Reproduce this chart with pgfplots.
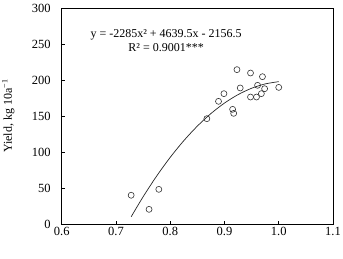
\documentclass[border=0pt]{standalone}
\usepackage{fontspec}
\setmainfont{Liberation Serif}
\usepackage{pgfplots}
\pgfplotsset{compat=1.18}
\begin{document}
\begin{tikzpicture}
\begin{axis}[
  scale only axis,
  width=271.3pt, height=215.7pt,
  xmin=0.6, xmax=1.1, ymin=0, ymax=300,
  xtick={0.6,0.7,0.8,0.9,1.0,1.1},
  xticklabels={0.6,0.7,0.8,0.9,1.0,1.1},
  ytick={0,50,100,150,200,250,300},
  xtick pos=bottom, ytick pos=left,
  tick align=inside,
  major tick length=3pt,
  tick style={black, line width=0.5pt},
  axis line style={black, line width=0.6pt},
  /pgf/number format/assume math mode=true,
  tick label style={font=\fontsize{12.5}{14}\selectfont},
  yticklabel style={xshift=-7.5pt},
  ylabel={Yield, kg 10a\textsuperscript{−1}},
  ylabel style={font=\fontsize{12}{14}\selectfont, at={(axis description cs:-0.197,0.5)}, anchor=center},
  clip=false,
]
\addplot[only marks, mark=o, mark size=3pt, mark options={line width=0.6pt, draw=black!80}] coordinates {
(0.728,40.0) (0.761,20.4) (0.779,48.2) (0.8675,146.5) (0.889,170.6)
(0.899,181.3) (0.915,159.5) (0.917,153.9) (0.923,214.7) (0.929,189.2)
(0.948,210.0) (0.948,176.6) (0.959,176.6) (0.961,192.9) (0.968,181.3)
(0.970,204.9) (0.974,188.2) (1.000,190.0)
};
\addplot[smooth, line width=0.7pt, black!85] coordinates {
(0.728,10.04) (0.75,37.81) (0.775,66.68) (0.80,92.70) (0.825,115.86)
(0.85,136.16) (0.875,153.61) (0.90,168.20) (0.925,179.93) (0.95,188.81)
(0.975,194.83) (1.0,198.0)
};
\node[font=\fontsize{12}{14}\selectfont, inner sep=0pt] at (axis cs:0.7924,263.5) {y = -2285x² + 4639.5x - 2156.5};
\node[font=\fontsize{12}{14}\selectfont, inner sep=0pt] at (axis cs:0.7924,245.5) {R² = 0.9001***};
\end{axis}
\pgfresetboundingbox
\path[use as bounding box] (-61.7pt,-34pt) rectangle (281.3pt,224pt);
\end{tikzpicture}
\end{document}
